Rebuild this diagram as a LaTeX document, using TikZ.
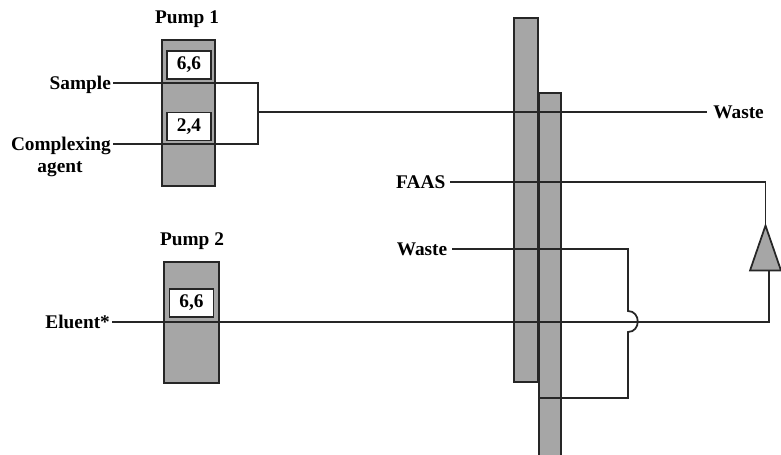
\documentclass[tikz,border=0pt]{standalone}
\usepackage{fontspec}
\setmainfont{Liberation Serif}
\usepackage{xcolor}
\usetikzlibrary{positioning, shapes.geometric}

\begin{document}
\begin{tikzpicture}[
  x=0.02cm, y=-0.02cm,
  line/.style={draw=black!85, line width=1pt},
  lab/.style={font=\fontsize{11}{13}\selectfont\bfseries, inner sep=1pt,
    text height=7.3pt, text depth=0pt},
  pumpbox/.style={draw=black!85, line width=1pt, fill=black!35, inner sep=0pt},
  valve/.style={draw=black!85, line width=0.8pt, fill=white, minimum width=0.88cm,
    minimum height=0.56cm, inner sep=0pt, font=\fontsize{11}{13}\selectfont\bfseries},
]
  \useasboundingbox (0,0) rectangle (781,454);

  % Pump blocks
  \node[pumpbox, minimum width=1.06cm, minimum height=2.92cm] (pumpa) at (188.5,113) {};
  \node[pumpbox, minimum width=1.10cm, minimum height=2.42cm] (pumpb) at (191.5,322.5) {};
  \node[valve] (sixa) at (189,65) {6,6};
  \node[valve] (two) at (189,126.5) {2,4};
  \node[valve] (sixb) at (191.5,303) {6,6};

  % Tall strips
  \node[pumpbox, minimum width=0.48cm, minimum height=7.28cm] (stripa) at (526,200) {};
  \node[pumpbox, minimum width=0.44cm, minimum height=7.30cm] (stripb) at (550,275.5) {};

  % Labels
  \node[lab] (pumpone) at (187,17) {Pump 1};
  \node[lab] (pumptwo) at (192,239) {Pump 2};
  \node[lab, anchor=east] (sample) at (113,83) {Sample};
  \node[lab, anchor=east] (complexing) at (113,144) {Complexing};
  \node[lab] (agent) at (60,166) {agent};
  \node[lab, anchor=east] (eluent) at (112,322) {Eluent*};
  \node[lab, anchor=west, inner xsep=3.4pt] (wastea) at (707,112) {Waste};
  \node[lab, anchor=east, inner xsep=2.5pt] (faas) at (450,182) {FAAS};
  \node[lab, anchor=east, inner xsep=2.5pt] (wasteb) at (452,249) {Waste};

  % Detector
  \node[draw=black!85, line width=1pt, fill=black!35, isosceles triangle,
    isosceles triangle stretches, shape border rotate=90, inner sep=0pt, outer sep=0pt,
    minimum height=0.90cm, minimum width=0.62cm] (det) at (765.5,259.5) {};

  % Junctions
  \coordinate (joina) at (258,112);
  \coordinate (turnb) at (628,249);
  \coordinate (bumptop) at (628,311);
  \coordinate (bumpbot) at (628,332);
  \coordinate (turnc) at (628,398);
  \coordinate (stripend) at (540,398);
  \coordinate (detin) at (769,270);

  % Flow lines
  \draw[line] (sample.east) -- (sample.east -| joina) -- (complexing.east -| joina) -- (complexing.east);
  \draw[line] (joina) -- (wastea.west);
  \draw[line] (faas.east) -- (faas.east -| det.apex) -- (det.apex);
  \draw[line] (wasteb.east) -- (turnb) -- (bumptop)
    .. controls (641,311) and (641,332) .. (bumpbot) -- (turnc) -- (stripend);
  \draw[line] (eluent.east) -- (eluent.east -| detin) -- (detin);
\end{tikzpicture}
\end{document}
